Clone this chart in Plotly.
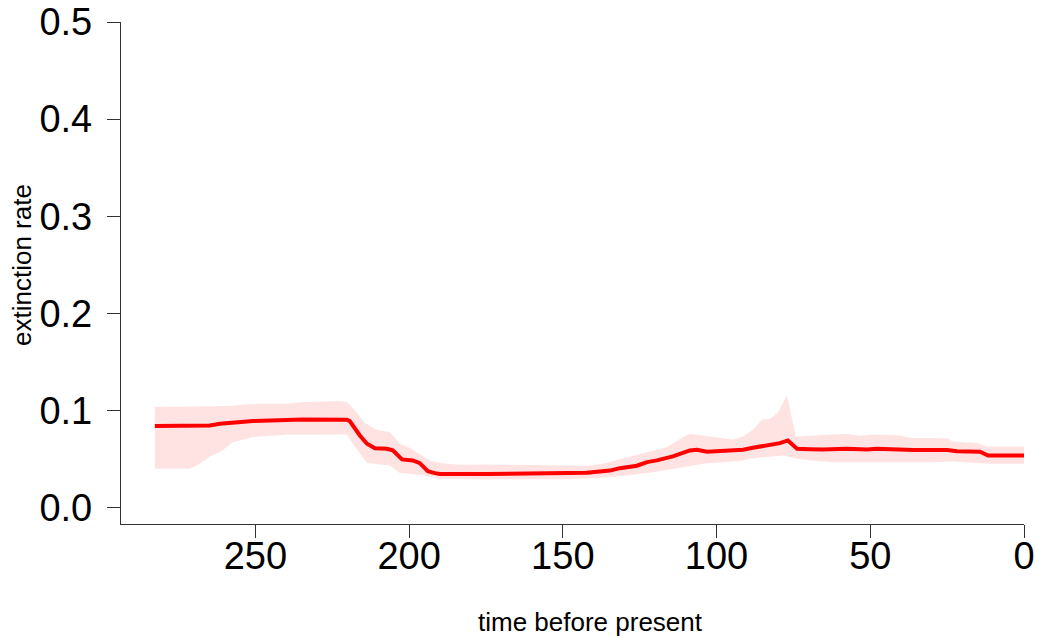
import plotly.graph_objects as go

# main estimate (time before present, extinction rate)
line_t = [282.7, 264.8, 261.5, 258.3, 250.8, 234.5, 220.2, 219.3, 216.0, 213.7, 211.1, 207.2,
          205.3, 202.3, 198.8, 196.5, 193.9, 191.6, 190.0, 174.7, 158.4, 142.2, 134.7, 131.4,
          125.9, 122.6, 119.4, 114.2, 108.7, 106.4, 103.1, 96.6, 91.4, 88.2, 82.6, 79.4, 76.8,
          73.8, 69.6, 65.4, 57.6, 51.1, 47.8, 40.3, 36.1, 25.0, 21.8, 14.3, 11.7, 0.0]
line_v = [0.0838, 0.0845, 0.0863, 0.0873, 0.0890, 0.0907, 0.0904, 0.0890, 0.0742, 0.0657, 0.0611, 0.0605,
          0.0588, 0.0495, 0.0485, 0.0457, 0.0374, 0.0354, 0.0345, 0.0345, 0.0350, 0.0358, 0.0380, 0.0405,
          0.0430, 0.0467, 0.0485, 0.0526, 0.0588, 0.0595, 0.0574, 0.0585, 0.0595, 0.0615, 0.0649, 0.0663, 0.0691,
          0.0605, 0.0601, 0.0598, 0.0605, 0.0598, 0.0605, 0.0598, 0.0591, 0.0591, 0.0580, 0.0574, 0.0536, 0.0536]

# upper bound of the interval
upper_t = [282.7, 258.3, 252.8, 248.5, 239.8, 234.5, 222.5, 220.2, 217.0, 214.4, 210.5, 206.2, 203.0,
           199.1, 196.5, 193.2, 190.0, 183.5, 174.7, 164.0, 153.2, 142.2, 137.0, 131.4, 122.6, 116.1,
           110.9, 108.7, 102.1, 94.7, 91.4, 88.2, 85.2, 82.6, 80.0, 77.1, 74.2, 67.3, 57.6, 53.4, 49.1,
           40.3, 37.1, 25.0, 23.1, 15.3, 12.0, 0.0]
upper_v = [0.1034, 0.1044, 0.1062, 0.1069, 0.1069, 0.1086, 0.1096, 0.1086, 0.0982, 0.0869, 0.0801, 0.0776, 0.0657,
           0.0605, 0.0546, 0.0485, 0.0457, 0.0440, 0.0443, 0.0440, 0.0430, 0.0430, 0.0451, 0.0495, 0.0570, 0.0622,
           0.0725, 0.0760, 0.0732, 0.0701, 0.0732, 0.0801, 0.0904, 0.0914, 0.0982, 0.1155, 0.0732, 0.0742, 0.0760, 0.0739, 0.0753,
           0.0742, 0.0719, 0.0714, 0.0680, 0.0663, 0.0629, 0.0629]

# lower bound of the interval
lower_t = [282.7, 271.3, 268.1, 264.8, 261.5, 257.3, 250.8, 239.8, 220.2, 218.3, 216.0, 213.7, 206.2,
           203.0, 196.5, 190.0, 174.7, 147.7, 135.7, 129.1, 120.7, 110.9, 104.4, 92.4, 89.1, 78.4,
           73.8, 69.6, 62.1, 29.6, 23.1, 12.0, 0.0]
lower_v = [0.0399, 0.0399, 0.0451, 0.0526, 0.0570, 0.0673, 0.0725, 0.0749, 0.0753, 0.0657, 0.0554, 0.0457, 0.0433,
           0.0354, 0.0337, 0.0296, 0.0289, 0.0292, 0.0312, 0.0330, 0.0364, 0.0415, 0.0451, 0.0480, 0.0502, 0.0536,
           0.0502, 0.0485, 0.0467, 0.0467, 0.0474, 0.0451, 0.0451]

y_ticks = [0.0, 0.1, 0.2, 0.3, 0.4, 0.5]
y_labels = ["0.0", "0.1", "0.2", "0.3", "0.4", "0.5"]
x_ticks = [250, 200, 150, 100, 50, 0]
x_labels = ["250", "200", "150", "100", "50", "0"]

FONT = "Liberation Sans, Arial, Helvetica, sans-serif"

fig = go.Figure()
fig.add_trace(go.Scatter(
    x=upper_t + lower_t[::-1], y=upper_v + lower_v[::-1],
    fill="toself", fillcolor="rgba(255,0,0,0.11)", line=dict(width=0),
    mode="lines", hoverinfo="skip", showlegend=False))
fig.add_trace(go.Scatter(
    x=line_t, y=line_v, mode="lines",
    line=dict(color="#ff0000", width=4), showlegend=False))

fig.update_layout(
    width=1039, height=638,
    margin=dict(l=121, r=15, t=22, b=114),
    paper_bgcolor="white", plot_bgcolor="white",
    font=dict(family=FONT, color="black"),
    xaxis=dict(range=[293.7, 0], tickvals=x_ticks, ticktext=x_labels, automargin=False,
               showgrid=False, zeroline=False, showline=True, linecolor="#333",
               linewidth=1.3, ticks="outside", ticklen=13, tickwidth=1.3, tickcolor="#333",
               tickfont=dict(size=38, family=FONT), ticklabelstandoff=-15),
    yaxis=dict(range=[-0.0170, 0.5], tickvals=y_ticks, ticktext=y_labels, automargin=False,
               showgrid=False, zeroline=False, showline=True, linecolor="#333",
               linewidth=1.3, ticks="outside", ticklen=13, tickwidth=1.3, tickcolor="#333",
               tickfont=dict(size=38, family=FONT), ticklabelstandoff=7),
    annotations=[
        dict(text="time before present", xref="paper", yref="paper",
             x=(590 - 121) / 903, y=-(622 - 524) / 502, xanchor="center", yanchor="middle",
             showarrow=False, font=dict(size=26, family=FONT)),
        dict(text="extinction rate", xref="paper", yref="paper", textangle=-90,
             x=-(121 - 22) / 903, y=(524 - 265) / 502, xanchor="center", yanchor="middle",
             showarrow=False, font=dict(size=26, family=FONT)),
    ],
)

fig.write_html("out.html", config={"displayModeBar": False},
               post_script="document.body.style.margin='0';document.body.style.overflow='hidden';")
